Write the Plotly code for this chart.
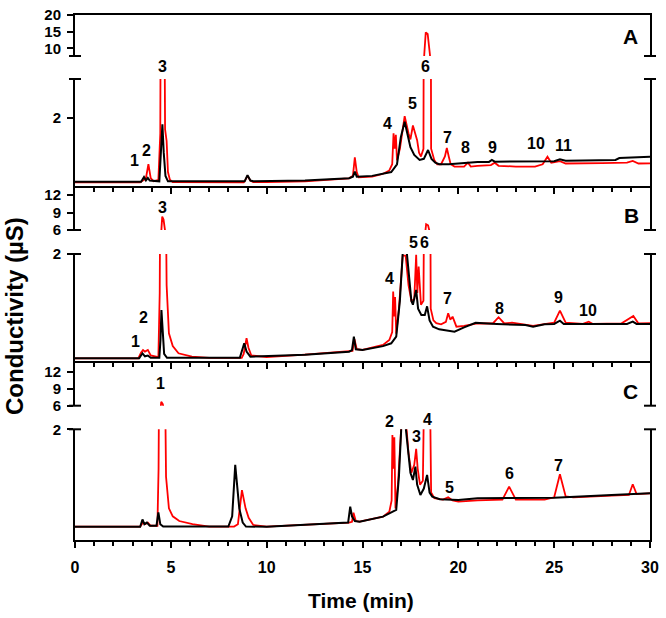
import plotly.graph_objects as go

# ---------------- DATA ----------------
# Panel A
a_red_t = [0, 3.4, 3.6, 3.7, 3.83, 3.95, 4.1, 4.35, 4.45, 4.5, 4.62, 4.7, 4.78, 4.85, 4.95, 5.1,
           8.8, 8.85, 9.0, 9.15, 9.3, 10, 12, 14.3, 14.5, 14.6, 14.7, 14.8, 15.5, 16.05, 16.4, 16.55,
           16.62, 16.68, 16.74, 16.8, 16.95, 17.2, 17.4, 17.5, 17.63, 17.75, 17.85, 17.95, 18.05,
           18.18, 18.22, 18.3, 18.4, 18.52, 18.58, 18.75, 18.9, 19.1, 19.3, 19.4, 19.5, 19.6, 19.8,
           20.3, 20.5, 20.65, 21.0, 21.7, 21.9, 22.1, 23.0, 24.0, 24.4, 24.65, 24.85, 25.3, 25.6,
           26.5, 27.5, 28.8, 29.1, 29.4, 30]
a_red_v = [1.167, 1.167, 1.20, 1.22, 1.40, 1.22, 1.18, 1.20, 1.80, 6.0, 5.5, 1.85, 1.70, 1.30, 1.20, 1.17,
           1.167, 1.18, 1.25, 1.19, 1.17, 1.17, 1.18, 1.219, 1.25, 1.49, 1.30, 1.23, 1.24, 1.274, 1.32, 1.40,
           1.80, 1.60, 1.78, 1.45, 1.60, 2.02, 1.80, 1.72, 1.90, 1.80, 1.71, 1.55, 1.50,
           1.60, 8.0, 14.8, 14.3, 8.0, 1.60, 1.45, 1.40, 1.40, 1.50, 1.61, 1.50, 1.40, 1.37,
           1.37, 1.42, 1.37, 1.38, 1.39, 1.42, 1.38, 1.37, 1.37, 1.40, 1.497, 1.42, 1.44, 1.41,
           1.41, 1.415, 1.42, 1.442, 1.41, 1.412]
a_blk_t = [0, 3.45, 3.6, 3.7, 3.8, 3.9, 4.4, 4.48, 4.56, 4.63, 4.72, 4.85, 8.85, 9.0, 9.15, 9.3, 12,
           14.3, 14.5, 14.6, 14.7, 15.5, 16.05, 16.5, 16.8, 17.0, 17.2, 17.35, 17.5, 17.7, 17.98, 18.2,
           18.42, 18.6, 18.8, 19.0, 19.5, 20, 21.0, 21.6, 21.75, 21.9, 23, 24, 25.0, 25.3, 25.6, 26.5,
           27.5, 28.2, 28.4, 30]
a_blk_v = [1.175, 1.175, 1.235, 1.19, 1.223, 1.19, 1.18, 1.50, 1.915, 1.55, 1.25, 1.18, 1.18, 1.26, 1.19, 1.18, 1.19,
           1.22, 1.24, 1.304, 1.24, 1.25, 1.274, 1.30, 1.40, 1.75, 1.949, 1.80, 1.62, 1.52, 1.455, 1.47,
           1.584, 1.47, 1.42, 1.40, 1.40, 1.41, 1.43, 1.43, 1.455, 1.433, 1.433, 1.433, 1.44, 1.464, 1.445, 1.45,
           1.455, 1.455, 1.48, 1.497]

# Panel B
b_red_t = [0, 3.3, 3.45, 3.55, 3.65, 3.8, 3.95, 4.35, 4.42, 4.45, 4.55, 4.62, 4.73, 4.78, 4.9, 5.1, 5.4,
           6.1, 7, 8.7, 8.8, 8.95, 9.05, 9.2, 10, 12, 14.3, 14.48, 14.58, 14.7, 15, 16.07, 16.4, 16.55,
           16.6, 16.66, 16.7, 16.76, 16.9, 17.1, 17.25, 17.4, 17.55, 17.7, 17.8, 17.86, 17.93, 18.05,
           18.18, 18.22, 18.32, 18.42, 18.52, 18.56, 18.7, 18.85, 19.1, 19.35, 19.47, 19.58, 19.7,
           19.8, 19.9, 20.3, 21, 21.8, 22.1, 22.4, 22.8, 23.9, 24.5, 25.0, 25.3, 25.6, 26.5, 26.8,
           27.0, 28.5, 29.13, 29.4, 30]
b_red_v = [0.664, 0.664, 0.74, 0.771, 0.75, 0.771, 0.70, 0.68, 1.5, 3.0, 8.3, 7.8, 3.0, 1.6, 0.985, 0.82, 0.728,
           0.685, 0.67, 0.67, 0.72, 0.921, 0.80, 0.70, 0.68, 0.71, 0.749, 0.76, 0.908, 0.78, 0.771, 0.835, 0.899, 1.0,
           1.518, 1.2, 1.45, 0.98, 1.3, 1.98, 1.98, 1.6, 1.40, 1.42, 1.99, 1.5, 1.84, 1.35,
           1.4, 4.0, 7.0, 6.8, 4.0, 1.3, 1.15, 1.113, 1.10, 1.13, 1.241, 1.16, 1.197,
           1.12, 1.069, 1.08, 1.11, 1.11, 1.19, 1.11, 1.12, 1.08, 1.10, 1.12, 1.274, 1.12, 1.105, 1.133,
           1.105, 1.11, 1.206, 1.11, 1.113]
b_blk_t = [0, 3.35, 3.52, 3.65, 3.8, 3.95, 4.4, 4.46, 4.51, 4.57, 4.65, 4.8, 8.6, 8.83, 8.95, 9.15, 12,
           14.3, 14.45, 14.55, 14.65, 15, 16.07, 16.5, 16.76, 16.95, 17.05, 17.12, 17.28, 17.4, 17.55,
           17.63, 17.8, 17.9, 18.07, 18.25, 18.37, 18.5, 18.68, 19.0, 19.55, 19.8, 20.3, 20.9, 22,
           23.5, 23.9, 24.5, 25.0, 25.3, 25.5, 28.8, 29.1, 29.3, 30]
b_blk_v = [0.664, 0.664, 0.728, 0.69, 0.70, 0.67, 0.67, 0.90, 1.283, 1.0, 0.72, 0.67, 0.67, 0.856, 0.75, 0.685, 0.71,
           0.749, 0.77, 0.941, 0.78, 0.771, 0.82, 0.856, 0.941, 1.4, 1.9, 2.1, 2.1, 1.75, 1.40,
           1.35, 1.54, 1.3, 1.22, 1.22, 1.33, 1.15, 1.07, 1.035, 1.02, 1.005, 1.06, 1.12, 1.104,
           1.09, 1.069, 1.10, 1.104, 1.146, 1.104, 1.104, 1.133, 1.104, 1.104]

# Panel C
c_red_t = [0, 3.4, 3.55, 3.65, 3.8, 3.95, 4.3, 4.36, 4.42, 4.5, 4.58, 4.68, 4.75, 4.9, 5.1, 5.44, 6.13, 7,
           8.3, 8.5, 8.71, 8.9, 9.06, 9.3, 10, 12, 14.3, 14.45, 14.53, 14.65, 14.85, 16.07, 16.4, 16.52,
           16.56, 16.62, 16.66, 16.72, 16.85, 17.05, 17.25, 17.4, 17.55, 17.7, 17.8, 17.88, 18.0, 18.15,
           18.2, 18.3, 18.42, 18.52, 18.58, 18.75, 19.2, 19.47, 19.7, 20, 21, 22.3, 22.65, 23.0, 24.5,
           25.0, 25.3, 25.6, 26, 28.0, 28.9, 29.1, 29.3, 30]
c_red_v = [0.768, 0.768, 0.82, 0.80, 0.82, 0.78, 0.78, 1.5, 4.0, 6.7, 6.3, 3.0, 1.4, 1.0, 0.9, 0.84, 0.80, 0.77,
           0.77, 0.80, 1.23, 1.0, 0.88, 0.79, 0.768, 0.79, 0.819, 0.83, 0.946, 0.84, 0.832, 0.895, 0.958, 1.1,
           1.929, 1.5, 1.9, 1.0, 1.3, 2.15, 2.15, 1.7, 1.45, 1.55, 1.752, 1.5, 1.3, 1.35,
           3.0, 4.0, 3.8, 2.5, 1.2, 1.13, 1.11, 1.14, 1.10, 1.085, 1.10, 1.11, 1.275, 1.11, 1.11,
           1.14, 1.432, 1.15, 1.14, 1.16, 1.17, 1.305, 1.18, 1.19]
c_blk_t = [0, 3.4, 3.52, 3.62, 3.75, 3.9, 4.25, 4.35, 4.45, 4.6, 8.0, 8.2, 8.36, 8.45, 8.57, 8.75, 8.92,
           10, 12, 14.25, 14.36, 14.45, 14.6, 14.85, 16.07, 16.4, 16.76, 16.9, 17.05, 17.2, 17.35, 17.5,
           17.63, 17.76, 17.85, 18.02, 18.2, 18.37, 18.5, 18.64, 19.03, 20, 21, 25, 28, 30]
c_blk_v = [0.768, 0.768, 0.86, 0.80, 0.82, 0.78, 0.78, 0.95, 0.80, 0.77, 0.77, 0.90, 1.55, 1.35, 1.0, 0.82, 0.77,
           0.768, 0.79, 0.82, 1.022, 0.90, 0.84, 0.832, 0.895, 0.94, 0.98, 1.4, 2.15, 2.15, 1.8, 1.45,
           1.359, 1.528, 1.3, 1.17, 1.25, 1.423, 1.2, 1.148, 1.115, 1.106, 1.128, 1.135, 1.17, 1.191]

# Peak labels (text, time, vertical pixel position of the label)
a_labels = ["1", "2", "3", "4", "5", "6", "7", "8", "9", "10", "11"]
a_lab_t = [3.08, 3.71, 4.55, 16.33, 17.63, 18.28, 19.41, 20.39, 21.76, 24.03, 25.47]
a_lab_px = [160, 150, 66, 123, 103, 66, 137, 148, 147, 143, 146]
b_labels = ["1", "2", "3", "4", "5", "6", "7", "8", "9", "10"]
b_lab_t = [3.17, 3.57, 4.55, 16.41, 17.67, 18.24, 19.46, 22.13, 25.21, 26.78]
b_lab_px = [341, 317, 207, 278, 242, 242, 298, 308, 297, 310]
c_labels = ["1", "2", "3", "4", "5", "6", "7"]
c_lab_t = [4.48, 16.41, 17.81, 18.37, 19.55, 22.65, 25.21]
c_lab_px = [383, 421, 437, 419, 487, 473, 465]

x_ticks = [0, 5, 10, 15, 20, 25, 30]

# ---------------- LAYOUT ----------------
W, H = 666, 618
ML, MR, MT, MB = 75, 16, 15, 78
PLOT_BOTTOM = H - MB
PH = H - MT - MB
PW = W - ML - MR


def fy(px):
    return (PLOT_BOTTOM - px) / PH


def dom(top, bot):
    return [fy(bot), fy(top)]


segs = {
    "A_up": (15, 56), "A_lo": (79, 187.5),
    "B_up": (187.5, 230), "B_lo": (254, 363.3),
    "C_up": (363.3, 405.7), "C_lo": (429.3, 540),
}
FONT = "Liberation Sans, Arial, sans-serif"
RED = "#ff0000"
BLK = "#000000"

fig = go.Figure()

panels = [
    ("A", a_red_t, a_red_v, a_blk_t, a_blk_v, 1, 2),
    ("B", b_red_t, b_red_v, b_blk_t, b_blk_v, 3, 4),
    ("C", c_red_t, c_red_v, c_blk_t, c_blk_v, 5, 6),
]
for name, rt, rv, bt, bv, up, lo in panels:
    for ax in (up, lo):
        xs = "x" if ax == 1 else f"x{ax}"
        ys = "y" if ax == 1 else f"y{ax}"
        fig.add_trace(go.Scatter(x=rt, y=rv, mode="lines", line=dict(color=RED, width=1.8),
                                 xaxis=xs, yaxis=ys, showlegend=False, hoverinfo="skip"))
        fig.add_trace(go.Scatter(x=bt, y=bv, mode="lines", line=dict(color=BLK, width=2),
                                 xaxis=xs, yaxis=ys, showlegend=False, hoverinfo="skip"))

tickfont = dict(family=FONT, size=15, color="black", weight="bold")
ybase = dict(showline=True, linecolor="black", linewidth=2, mirror=True, ticks="outside",
             ticklen=6, tickwidth=2, tickcolor="black", showgrid=False, zeroline=False,
             tickfont=tickfont, ticklabelstandoff=3, automargin=False)

layout = dict(
    width=W, height=H, margin=dict(l=ML, r=MR, t=MT, b=MB, autoexpand=False),
    plot_bgcolor="white", paper_bgcolor="white", showlegend=False, template="none",
)
layout["yaxis"] = dict(ybase, domain=dom(*segs["A_up"]), range=[7.69, 20], tickvals=[10, 15, 20], anchor="x")
layout["yaxis2"] = dict(ybase, domain=dom(*segs["A_lo"]), range=[1.1, 2.5], tickvals=[2], anchor="x2")
layout["yaxis3"] = dict(ybase, domain=dom(*segs["B_up"]), range=[6, 13.29], tickvals=[6, 9, 12], anchor="x3")
layout["yaxis4"] = dict(ybase, domain=dom(*segs["B_lo"]), range=[0.6, 2.0], tickvals=[2], anchor="x4")
layout["yaxis5"] = dict(ybase, domain=dom(*segs["C_up"]), range=[6, 13.48], tickvals=[6, 9, 12], anchor="x5")
layout["yaxis6"] = dict(ybase, domain=dom(*segs["C_lo"]), range=[0.6, 2.0], tickvals=[2], anchor="x6")

xbase = dict(range=[0, 30], showgrid=False, zeroline=False, domain=[0, 1], automargin=False)
hidden = dict(xbase, showline=False, ticks="", showticklabels=False)
inner_top = dict(xbase, side="top", showline=True, linecolor="black", linewidth=2, ticks="inside",
                 tickvals=x_ticks, ticklen=6, tickwidth=2, tickcolor="black", showticklabels=False,
                 minor=dict(dtick=1, ticks="inside", ticklen=4, tickwidth=1.5, tickcolor="black"))
layout["xaxis"] = dict(xbase, side="top", showline=True, linecolor="black", linewidth=2, ticks="",
                       showticklabels=False, anchor="y")
layout["xaxis2"] = dict(hidden, anchor="y2")
layout["xaxis3"] = dict(inner_top, anchor="y3")
layout["xaxis4"] = dict(hidden, anchor="y4")
layout["xaxis5"] = dict(inner_top, anchor="y5")
layout["xaxis6"] = dict(xbase, side="bottom", showline=True, linecolor="black", linewidth=2,
                        ticks="outside", tickvals=x_ticks, ticklen=6, tickwidth=2, tickcolor="black",
                        tickfont=dict(family=FONT, size=16, color="black", weight="bold"),
                        ticklabelstandoff=6,
                        minor=dict(dtick=1, ticks="outside", ticklen=4, tickwidth=1.5, tickcolor="black"),
                        anchor="y6")
fig.update_layout(**layout)

# break caps on both vertical axes
cap = 6 / PW
shapes = []
for key, end in [("A_up", 1), ("A_lo", 0), ("B_up", 1), ("B_lo", 0), ("C_up", 1), ("C_lo", 0)]:
    ypx = segs[key][end]
    for xc in (0, 1):
        shapes.append(dict(type="line", xref="paper", yref="paper", x0=xc - cap, x1=xc + cap,
                           y0=fy(ypx), y1=fy(ypx), line=dict(color="black", width=2)))
fig.update_layout(shapes=shapes)

ann = []
labfont = dict(family=FONT, size=16, color="black", weight="bold")
for labs, ts, pxs in [(a_labels, a_lab_t, a_lab_px), (b_labels, b_lab_t, b_lab_px), (c_labels, c_lab_t, c_lab_px)]:
    for s, t, p in zip(labs, ts, pxs):
        ann.append(dict(text=s, x=t, xref="x6", y=fy(p), yref="paper", showarrow=False,
                        xanchor="center", yanchor="middle", font=labfont))
for s, t, p in [("A", 28.96, 37), ("B", 29.05, 215), ("C", 28.96, 391)]:
    ann.append(dict(text=s, x=t, xref="x6", y=fy(p), yref="paper", showarrow=False,
                    xanchor="center", yanchor="middle",
                    font=dict(family=FONT, size=21, color="black", weight="bold")))
ann.append(dict(text="Time (min)", x=0.498, xref="paper", y=fy(600), yref="paper", showarrow=False,
                xanchor="center", yanchor="middle",
                font=dict(family=FONT, size=21, color="black", weight="bold")))
ann.append(dict(text="Conductivity (µS)", x=(15 - ML) / PW, xref="paper", y=fy(316), yref="paper",
                showarrow=False, textangle=-90, xanchor="center", yanchor="middle",
                font=dict(family=FONT, size=24, color="black", weight="bold")))
fig.update_layout(annotations=ann)

fig.write_html("out.html", config={"displayModeBar": False},
               post_script="document.body.style.margin='0';document.body.style.overflow='hidden';")
